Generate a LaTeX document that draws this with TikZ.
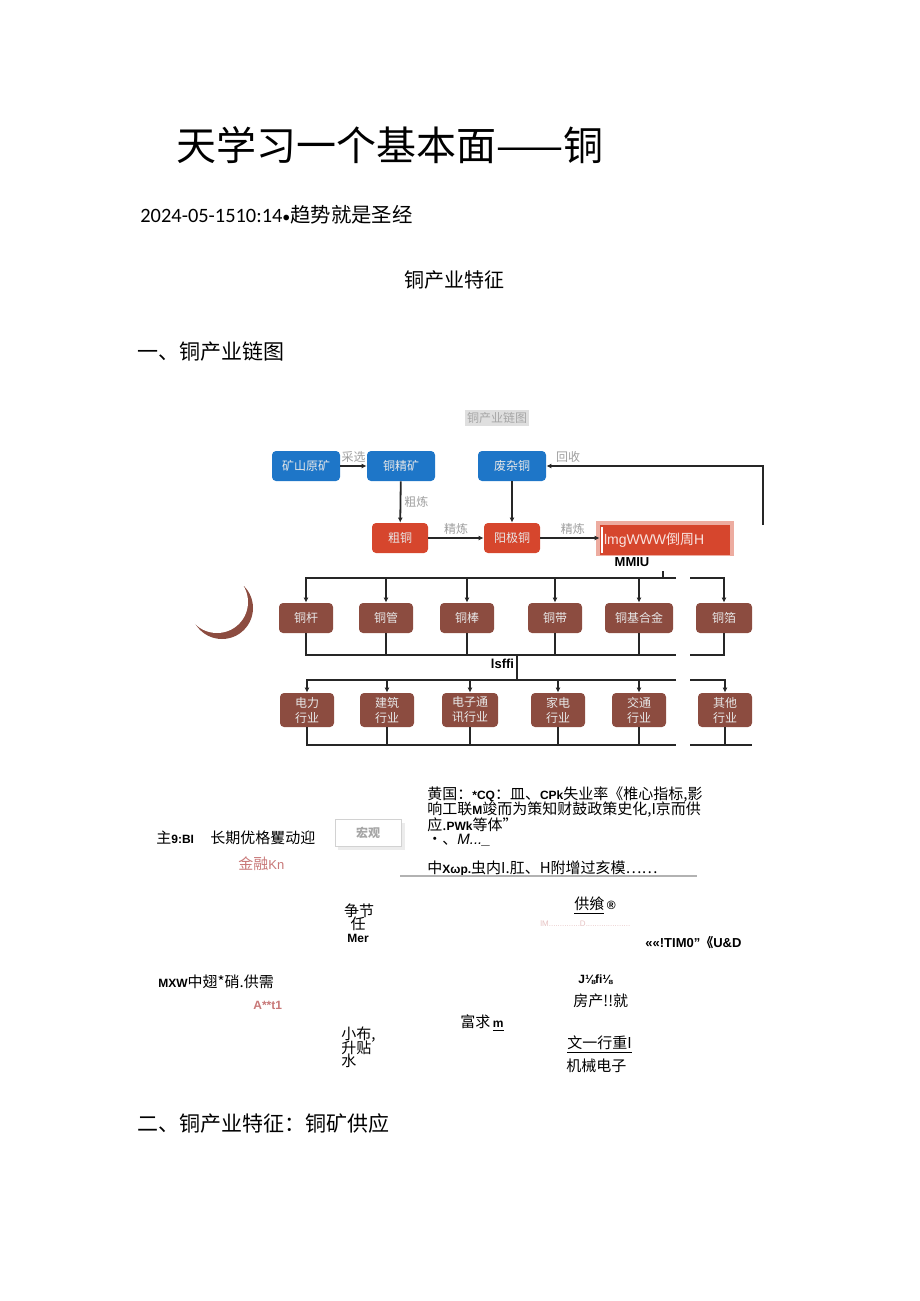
\documentclass[tikz,border=0pt]{standalone}
\usepackage{fontspec}
\setmainfont{Carlito}
\newfontfamily\cjk{Noto Sans CJK SC}
\newfontfamily\lib{Liberation Sans}
\usetikzlibrary{positioning,calc,arrows.meta}
\definecolor{boxblue}{RGB}{30,118,200}
\definecolor{boxred}{RGB}{214,70,45}
\definecolor{boxbrown}{RGB}{140,76,64}
\definecolor{rose}{RGB}{200,120,120}
\newcommand{\lb}[1]{{\lib\bfseries\fontsize{6pt}{7pt}\selectfont #1}}

\begin{document}
\begin{tikzpicture}[x=0.5pt,y=-0.5pt,
  box/.style={rounded corners=2pt,minimum height=15pt,inner sep=0pt,text=white!82!gray,font=\cjk\fontsize{6pt}{7.5pt}\selectfont},
  bluebox/.style={box,fill=boxblue,minimum width=34pt},
  redbox/.style={box,fill=boxred,minimum width=28pt},
  prodbox/.style={box,fill=boxbrown,minimum width=27pt},
  indbox/.style={box,fill=boxbrown,minimum width=27pt,minimum height=17pt,align=center},
  lbl/.style={font=\cjk\fontsize{6pt}{7pt}\selectfont,text=gray!75,inner sep=1.5pt},
  flow/.style={draw=black!85,line width=0.9pt},
  arr/.style={flow,-{Latex[length=2.5pt,width=2.5pt]}},
  txt/.style={anchor=west,inner sep=0pt,font=\cjk\fontsize{7.5pt}{8pt}\selectfont},
  head/.style={anchor=west,inner sep=0pt,font=\cjk\fontsize{10.5pt}{12pt}\selectfont}]
\useasboundingbox (0,0) rectangle (920,1301);

% page head
\node[anchor=west,inner sep=0pt,font=\cjk\fontsize{20pt}{24pt}\selectfont] (title) at (176,145) {天学习一个基本面——铜};
\node[anchor=west,inner sep=0pt,font=\fontsize{10.2pt}{12pt}\selectfont] (date) at (140,215) {2024-05-1510:14{\fontsize{8pt}{10pt}\selectfont•}{\cjk 趋势就是圣经}};
\node[inner sep=0pt,font=\cjk\fontsize{10pt}{12pt}\selectfont] (sub) at (454,280) {铜产业特征};
\node[head] (sec1) at (137,352) {一、铜产业链图};

% chain picture
\node[fill=gray!25,text=gray!70,inner sep=1pt,font=\cjk\fontsize{6pt}{7pt}\selectfont] (ctitle) at (497,418) {铜产业链图};
\node[bluebox] (mine) at (306,466) {矿山原矿};
\node[bluebox] (conc) at (401,466) {铜精矿};
\node[bluebox] (scrap) at (512,466) {废杂铜};
\node[redbox] (blister) at (400,538) {粗铜};
\node[redbox] (anode) at (512,538) {阳极铜};
\fill[boxred!45!white] (596,521) rectangle (734,556);
\node[box,rounded corners=0pt,fill=boxred,minimum width=65pt,text width=61pt,align=left,text=white!85!boxred,font=\lib\fontsize{7pt}{8pt}\selectfont] (cathode) at (665,540) {lmgWWW{\cjk 倒周}H};
\draw[white,line width=0.6pt] (602,527) -- (602,553);
\node[inner sep=0pt,font=\lib\bfseries\fontsize{6.5pt}{7pt}\selectfont] (mmiu) at (632,562) {MMIU};

\draw[arr] (mine) -- node[lbl,above] {采选} (conc);
\draw[arr] (conc) -- node[lbl,right] {粗炼} (blister);
\draw[arr] (blister) -- node[lbl,above] {精炼} (anode);
\draw[arr] (scrap) -- (anode);
\draw[arr] (anode) -- node[lbl,above,pos=0.55] {精炼} (anode -| cathode.west);
\coordinate (back1) at (763,525);
\coordinate (back2) at (763,466);
\draw[arr] (back1) -- (back2) -- node[lbl,above,pos=0.9] {回收} (scrap);

% left crescent
\begin{scope}
\clip (190,586) rectangle (253,642);
\fill[boxbrown] (222,608) circle[radius=15.5pt];
\fill[white] (217,602) circle[radius=15.5pt];
\end{scope}

% products
\node[prodbox] (p1) at (306,618) {铜杆};
\node[prodbox] (p2) at (386,618) {铜管};
\node[prodbox] (p3) at (467,618) {铜棒};
\node[prodbox] (p4) at (555,618) {铜带};
\node[prodbox,minimum width=34pt] (p5) at (639,618) {铜基合金};
\node[prodbox,minimum width=28pt] (p6) at (724,618) {铜箔};

\coordinate (busA) at (306,578);
\coordinate (busAend) at (676,578);
\coordinate (busAr) at (690,578);
\coordinate (tick) at (663,571);
\draw[flow] (tick) -- (tick|-busA);
\draw[arr] (busAend) -- (busA) -- (p1);
\draw[arr] (p2|-busA) -- (p2);
\draw[arr] (p3|-busA) -- (p3);
\draw[arr] (p4|-busA) -- (p4);
\draw[arr] (p5|-busA) -- (p5);
\draw[arr] (busAr) -- (p6|-busA) -- (p6);

\coordinate (busB) at (306,655);
\coordinate (busBend) at (676,655);
\coordinate (busBr) at (690,655);
\draw[flow] (p1) -- (busB) -- (busBend);
\draw[flow] (p2) -- (p2|-busB);
\draw[flow] (p3) -- (p3|-busB);
\draw[flow] (p4) -- (p4|-busB);
\draw[flow] (p5) -- (p5|-busB);
\draw[flow] (p6) -- (p6|-busB) -- (busBr);

\coordinate (link1) at (517,655);
\coordinate (link2) at (517,680);
\draw[flow] (link1) -- node[left=0pt,pos=0.35,fill=white,inner sep=1pt,font=\lib\bfseries\fontsize{6.5pt}{7pt}\selectfont] {lsffi} (link2);

% industries
\node[indbox] (i1) at (307,710) {电力\\行业};
\node[indbox] (i2) at (387,710) {建筑\\行业};
\node[indbox,minimum width=28pt] (i3) at (470,710) {电子通\\讯行业};
\node[indbox] (i4) at (558,710) {家电\\行业};
\node[indbox] (i5) at (639,710) {交通\\行业};
\node[indbox] (i6) at (725,710) {其他\\行业};

\coordinate (busC) at (307,680);
\coordinate (busCend) at (676,680);
\coordinate (busCr) at (690,680);
\draw[arr] (busCend) -- (busC) -- (i1);
\draw[arr] (i2|-busC) -- (i2);
\draw[arr] (i3|-busC) -- (i3);
\draw[arr] (i4|-busC) -- (i4);
\draw[arr] (i5|-busC) -- (i5);
\draw[arr] (busCr) -- (i6|-busC) -- (i6);

\coordinate (busD) at (307,745);
\coordinate (busDend) at (676,745);
\coordinate (busDl) at (690,745);
\coordinate (busDr) at (752,745);
\draw[flow] (i1) -- (busD) -- (busDend);
\draw[flow] (i2) -- (i2|-busD);
\draw[flow] (i3) -- (i3|-busD);
\draw[flow] (i4) -- (i4|-busD);
\draw[flow] (i5) -- (i5|-busD);
\draw[flow] (i6) -- (i6|-busD);
\draw[flow] (busDl) -- (busDr);

% map of drivers
\node[txt] (m1) at (156,838) {主\lb{9:BI}};
\node[txt] (m2) at (210,838) {长期优格矍动迎};
\node[txt,text=rose] (m3) at (238,864) {金融{\lib\fontsize{6.5pt}{7pt}\selectfont Kn}};
\fill[gray!15] (338,823) rectangle (405,850);
\node[draw=gray!35,fill=white,minimum width=33pt,minimum height=13.5pt,inner sep=0pt,text=gray!70,font=\cjk\bfseries\fontsize{6pt}{7pt}\selectfont] (macro) at (368,833) {宏观};
\node[txt] (r1) at (427,795) {黄国：\lb{*CQ}：皿、\lb{CPk}失业率《椎心指标,影};
\node[txt] (r2) at (427,810) {响工联\lb{M}竣而为策知财鼓政策史化,I京而供};
\node[txt] (r3) at (427,825) {应.\lb{PWk}等体”};
\node[txt] (r4) at (427,840) {・、{\lib\itshape M...\_}};
\node[txt] (r5) at (427,868) {中\lb{Xωp.}虫内I.肛、H附增过亥模……};
\coordinate (rule1) at (400,876);
\coordinate (rule2) at (697,876);
\draw[gray!60,line width=0.7pt] (rule1) -- (rule2);

\node[txt,anchor=center] (c1) at (359,911) {争节};
\node[txt,anchor=center] (c2) at (358,924) {任};
\node[inner sep=0pt,font=\lib\bfseries\fontsize{6pt}{7pt}\selectfont] (c3) at (358,938) {Mer};

\node[txt] (s1) at (574,906) {\underline{供飨}\,\lb{®}};
\node[anchor=west,inner sep=0pt,text=rose!45,font=\lib\fontsize{4pt}{5pt}\selectfont] (s2) at (540,924) {lM..............D....................};
\node[anchor=west,inner sep=0pt,font=\lib\bfseries\fontsize{6.5pt}{7pt}\selectfont] (s3) at (645,943) {««!TIM0”{\cjk 《}U\&D};

\node[txt] (d1) at (158,982) {\lb{MXW}中翅*硝.供需};
\node[anchor=west,inner sep=0pt,text=rose,font=\lib\bfseries\fontsize{6pt}{7pt}\selectfont] (d2) at (253,1005) {A**t1};
\node[anchor=west,inner sep=0pt,font=\lib\bfseries\fontsize{6pt}{7pt}\selectfont] (e1) at (578,980) {J⅛fi⅛};
\node[txt] (e2) at (573,1001) {房产!!就};
\node[txt] (e3) at (460,1023) {富求\,\underline{\lb{m}}};
\node[txt] (f1) at (341,1035) {小布,};
\node[txt] (f2) at (341,1048) {升贴};
\node[txt] (f3) at (341,1061) {水};
\node[txt] (g1) at (567,1045) {\underline{文一行重I}};
\node[txt] (g2) at (566,1066) {机械电子};

\node[head] (sec2) at (137,1123) {二、铜产业特征：铜矿供应};
\end{tikzpicture}
\end{document}
